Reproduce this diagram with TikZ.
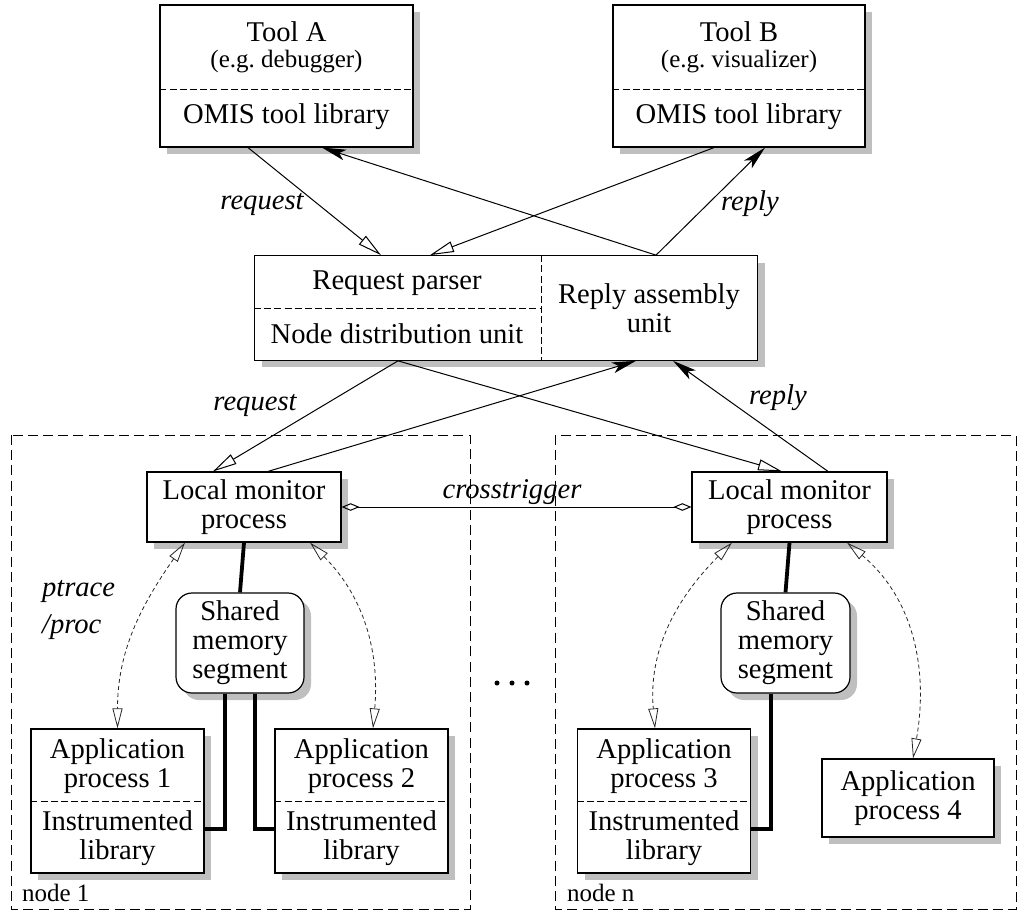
\documentclass[tikz,border=0pt]{standalone}
\usepackage{fontspec}
\setmainfont{Liberation Serif}
\usetikzlibrary{arrows.meta,shadows}

\tikzset{
  box/.style={draw, line width=0.6pt, fill=white, inner sep=0pt,
    drop shadow={shadow xshift=3.5pt, shadow yshift=-3.5pt, fill=black!25, opacity=1}},
  divider/.style={dash pattern=on 3.5pt off 1.6pt, line width=0.5pt},
  region/.style={dash pattern=on 5pt off 2.6pt, line width=0.5pt},
  req/.style={-{Triangle[open,length=12pt,width=5.5pt]}, line width=0.5pt},
  rep/.style={-{Stealth[length=12pt,width=5.5pt,inset=3pt]}, line width=0.5pt},
  cross/.style={{Diamond[open,length=9pt,width=3.8pt]}-{Diamond[open,length=9pt,width=3.8pt]}, line width=0.5pt},
  trace/.style={{Triangle[open,length=10pt,width=5pt]}-{Triangle[open,length=10pt,width=5pt]},
    dash pattern=on 2pt off 1.5pt, line width=0.4pt, black!85},
  shm/.style={line width=1.9pt},
  txt/.style={font=\fontsize{14.3}{14.5}\selectfont, align=center},
  lbl/.style={font=\fontsize{14.3}{14.5}\selectfont\itshape},
  small/.style={font=\fontsize{12.5}{14}\selectfont}
}

\begin{document}
\begin{tikzpicture}[x=0.5pt,y=-0.5pt]
\useasboundingbox (0,0) rectangle (1020,915);

% the two nodes
\draw[region] (11,435) rectangle (470,909);
\draw[region] (555,435) rectangle (1016,909);
\node[small,anchor=west] (nodeone) at (15,893) {node 1};
\node[small,anchor=west] (nodeN) at (560,893) {node n};

% tools
\node[box, minimum width=126.5pt, minimum height=71pt] (toolA) at (286.5,76) {};
\draw[divider] ([yshift=-7pt]toolA.west) -- ([yshift=-7pt]toolA.east);
\node[txt] (toolAname) at (286.5,32) {Tool A};
\node[small] (toolAex) at (286.5,62) {(e.g.\ debugger)};
\node[txt] (toolAlib) at (286.5,117) {OMIS tool library};

\node[box, minimum width=126pt, minimum height=71pt] (toolB) at (739,76) {};
\draw[divider] ([yshift=-7pt]toolB.west) -- ([yshift=-7pt]toolB.east);
\node[txt] (toolBname) at (739,32) {Tool B};
\node[small] (toolBex) at (739,62) {(e.g.\ visualizer)};
\node[txt] (toolBlib) at (739,117) {OMIS tool library};

% central part
\node[box, minimum width=251.5pt, minimum height=52.25pt] (dist) at (506,308) {};
\draw[divider] ([xshift=17.5pt]dist.north) -- ([xshift=17.5pt]dist.south);
\draw[divider] (dist.west) -- ([xshift=17.5pt]dist.center);
\node[txt] (parser) at (397,283) {Request parser};
\node[txt] (distunit) at (397,334) {Node distribution unit};
\node[txt] (assembly) at (649,308) {Reply assembly\\unit};

% local monitors
\node[box, txt, minimum width=97pt, minimum height=35pt] (lmpL) at (244,507) {Local monitor\\process};
\node[box, txt, minimum width=97.5pt, minimum height=35pt] (lmpR) at (789.5,507) {Local monitor\\process};

\node[box, txt, rounded corners=8pt, minimum width=64pt, minimum height=50pt] (shmL) at (240,643) {Shared\\memory\\segment};
\node[box, txt, rounded corners=8pt, minimum width=64.5pt, minimum height=50pt] (shmR) at (785.5,643) {Shared\\memory\\segment};

% application processes
\foreach \n/\x in {1/117.5, 2/361.5, 3/664} {
  \node[box, minimum width=86.5pt, minimum height=72pt] (app\n) at (\x,801) {};
  \draw[divider] (app\n.west) -- (app\n.east);
  \node[txt] (appname\n) at (\x,766) {Application\\process \n};
  \node[txt] (applib\n) at (\x,838) {Instrumented\\library};
}
\node[box, txt, minimum width=86pt, minimum height=39pt] (app4) at (908,798) {Application\\process 4};

% requests and replies
\draw[req] ([xshift=-19.25pt]toolA.south) -- ([xshift=-62.5pt]dist.north);
\draw[req] ([xshift=-12.5pt]toolB.south) -- ([xshift=-38pt]dist.north);
\draw[rep] ([xshift=75pt]dist.north) -- ([xshift=17.75pt]toolA.south);
\draw[rep] ([xshift=75pt]dist.north) -- ([xshift=13pt]toolB.south);
\node[lbl] (reqtop) at (262,204) {request};
\node[lbl] (reptop) at (750,204) {reply};

\draw[req] ([xshift=-54pt]dist.south) -- ([xshift=-15.5pt]lmpL.north);
\draw[req] ([xshift=-54pt]dist.south) -- ([xshift=-3.75pt]lmpR.north);
\draw[rep] ([xshift=12pt]lmpL.north) -- ([xshift=65pt]dist.south);
\draw[rep] ([xshift=19.25pt]lmpR.north) -- ([xshift=83.5pt]dist.south);
\node[lbl] (reqbot) at (255,405) {request};
\node[lbl] (repbot) at (778,398) {reply};

\draw[cross] (lmpL.east) -- (lmpR.west);
\node[lbl] (crosslbl) at (512,492) {crosstrigger};

% shared memory
\draw[shm] (lmpL.south) -- (shmL.north);
\draw[shm] ([xshift=-7.5pt]shmL.south) |- ([yshift=-14pt]app1.east);
\draw[shm] ([xshift=7.5pt]shmL.south) |- ([yshift=-14pt]app2.west);
\draw[shm] (lmpR.south) -- (shmR.north);
\draw[shm] ([xshift=-7.25pt]shmR.south) |- ([yshift=-14pt]app3.east);

% ptrace / proc
\draw[trace] ([xshift=-29.5pt]lmpL.south) to[out=-125,in=90] (app1.north);
\draw[trace] ([xshift=33pt]lmpL.south) to[out=-45,in=85] ([xshift=5.75pt]app2.north);
\draw[trace] ([xshift=-28.75pt]lmpR.south) to[out=-135,in=95] ([xshift=-4.5pt]app3.north);
\draw[trace] ([xshift=28.75pt]lmpR.south) to[out=-40,in=80] ([xshift=2.5pt]app4.north);
\node[lbl, align=left, anchor=west] (ptrace) at (35,610) {ptrace\\[4pt]/proc};

\foreach \i in {-1,0,1}
  \fill (512+15*\i,683) circle (2.5);

\end{tikzpicture}
\end{document}
